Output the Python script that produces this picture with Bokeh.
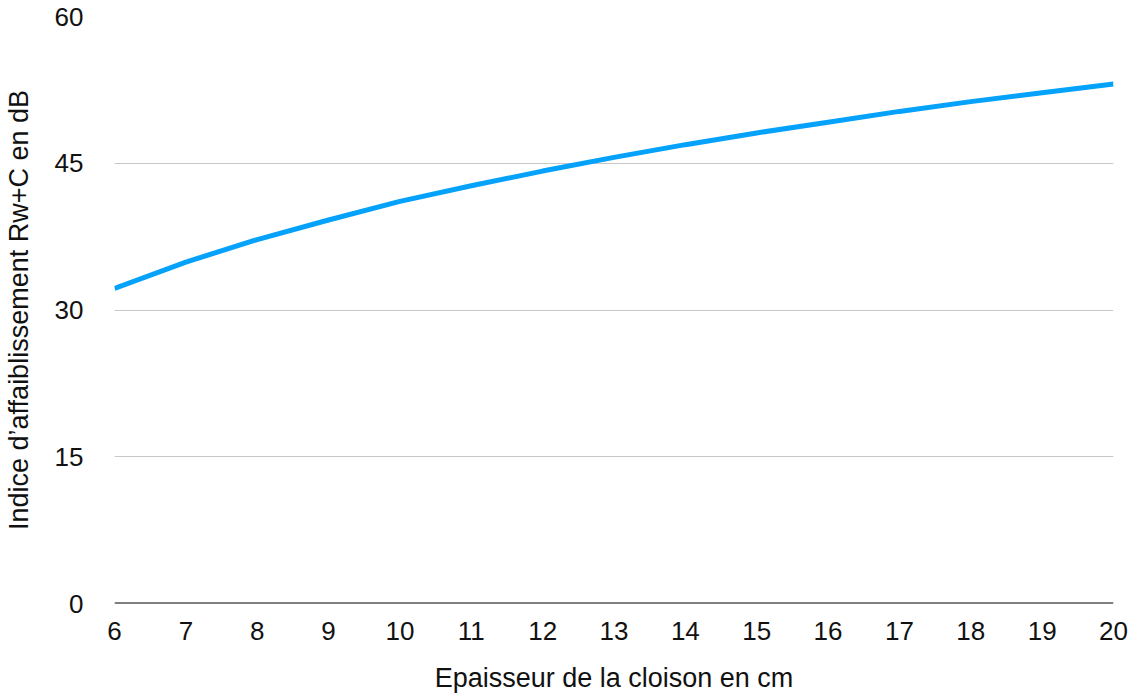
from bokeh.plotting import figure
from bokeh.models import Range1d, FixedTicker, Span, ColumnDataSource
from bokeh.embed import file_html
from bokeh.resources import INLINE

# Data
thickness_cm = [6, 7, 8, 9, 10, 11, 12, 13, 14, 15, 16, 17, 18, 19, 20]
rw_c_db = [32.2, 34.9, 37.2, 39.2, 41.1, 42.7, 44.2, 45.6, 46.9, 48.1, 49.2, 50.3, 51.3, 52.2, 53.1]
x_ticks = list(range(6, 21))
y_ticks = [0, 15, 30, 45, 60]

x_title = "Epaisseur de la cloison en cm"
y_title = "Indice d\u2019affaiblissement Rw+C en dB"

FONT = "Liberation Sans"

source = ColumnDataSource(data=dict(x=thickness_cm, y=rw_c_db))

p = figure(width=1132, height=695, output_backend="svg", toolbar_location=None,
           x_range=Range1d(6, 20), y_range=Range1d(0, 60),
           min_border_left=114, min_border_right=19, min_border_top=16, min_border_bottom=90)
p.outline_line_color = None
p.background_fill_color = "white"
p.border_fill_color = "white"

p.line("x", "y", source=source, line_color="#05a2fb", line_width=5)

# axes
for ax in (p.xaxis[0], p.yaxis[0]):
    ax.axis_line_color = None
    ax.major_tick_line_color = None
    ax.minor_tick_line_color = None
    ax.major_label_text_font = FONT
    ax.major_label_text_font_size = "26px"
    ax.major_label_text_color = "#111111"
    ax.axis_label_text_font = FONT
    ax.axis_label_text_font_size = "27px"
    ax.axis_label_text_font_style = "normal"
    ax.axis_label_text_color = "#111111"
    ax.major_tick_in = 0
    ax.major_tick_out = 0

p.xaxis[0].ticker = FixedTicker(ticks=x_ticks)
p.yaxis[0].ticker = FixedTicker(ticks=y_ticks)
p.xaxis[0].axis_label = x_title
p.yaxis[0].axis_label = y_title
p.xaxis[0].major_label_standoff = 18
p.xaxis[0].axis_label_standoff = 20
p.yaxis[0].major_label_standoff = 31
p.yaxis[0].axis_label_standoff = 18

p.xgrid.grid_line_color = None
p.ygrid.grid_line_color = "#c8c8c8"
p.ygrid.grid_line_width = 1
p.ygrid.ticker = FixedTicker(ticks=y_ticks)

zero = Span(location=0, dimension="width", line_color="black", line_width=2)
p.add_layout(zero)

open("out.html", "w").write(file_html(p, INLINE))
